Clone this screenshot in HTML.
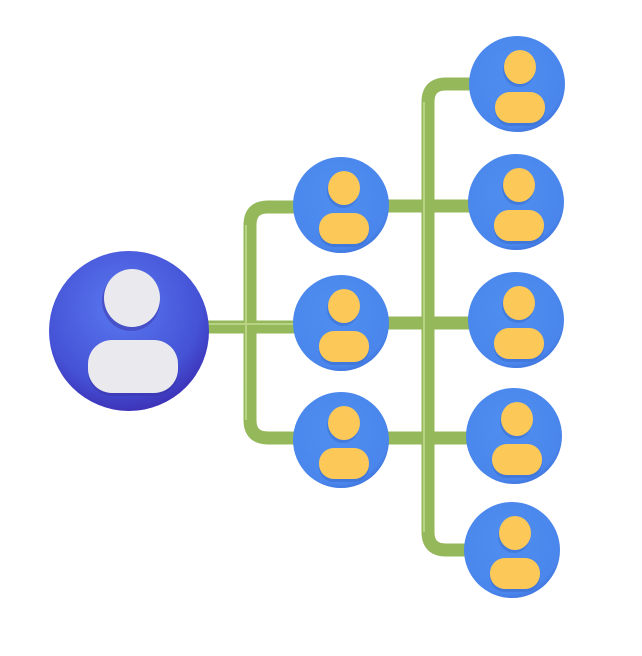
<!DOCTYPE html>
<html><head><style>html,body{margin:0;padding:0;background:#fff;}svg{display:block}</style></head>
<body>
<svg width="642" height="656" viewBox="0 0 642 656" xmlns="http://www.w3.org/2000/svg">
<defs>
<radialGradient id="big" cx="0.45" cy="0.35" r="0.7">
<stop offset="0" stop-color="#5a78f0"/><stop offset="0.7" stop-color="#4553d6"/><stop offset="1" stop-color="#3a2ab0"/>
</radialGradient>
<radialGradient id="sm" cx="0.45" cy="0.4" r="0.65">
<stop offset="0" stop-color="#4f8ff0"/><stop offset="0.85" stop-color="#4a86ec"/><stop offset="1" stop-color="#3b6ed8"/>
</radialGradient>
<g id="p">
<circle r="48" fill="url(#sm)"/>
<ellipse cx="2" cy="-14" rx="16" ry="17" fill="#3a6fd0" opacity="0.6"/>
<ellipse cx="3" cy="-17" rx="16" ry="17" fill="#fcc858"/>
<rect x="-22" y="10" width="50" height="32" rx="15" fill="#3a6fd0" opacity="0.6"/>
<rect x="-22" y="8" width="50" height="31" rx="15" fill="#fcc858"/>
</g>
</defs>
<g fill="none" stroke="#95b85a" stroke-width="13" stroke-linecap="round">
<path d="M205 327 H300"/>
<path d="M295 207 H268 Q250 207 250 225 V420 Q250 438 268 438 H300"/>
<path d="M385 206 H475"/>
<path d="M385 323 H475"/>
<path d="M385 438 H475"/>
<path d="M475 84 H446 Q428 84 428 102 V532 Q428 550 446 550 H475"/>
</g>
<g fill="none" stroke="#c9de96" stroke-width="2" opacity="0.7">
<path d="M205 324 H300"/>
<path d="M246 225 V420"/>
<path d="M424 102 V532"/>
</g>
<circle cx="129" cy="331" r="80" fill="url(#big)"/>
<ellipse cx="131" cy="301" rx="29" ry="30" fill="#3a33a8" opacity="0.5"/>
<ellipse cx="132" cy="298" rx="28" ry="29" fill="#e9e9ee"/>
<rect x="88" y="344" width="90" height="52" rx="24" fill="#3a33a8" opacity="0.5"/>
<rect x="88" y="340" width="90" height="53" rx="24" fill="#e9e9ee"/>
<use href="#p" x="341" y="205"/>
<use href="#p" x="341" y="323"/>
<use href="#p" x="341" y="440"/>
<use href="#p" x="517" y="84"/>
<use href="#p" x="516" y="202"/>
<use href="#p" x="516" y="320"/>
<use href="#p" x="514" y="436"/>
<use href="#p" x="512" y="550"/>
</svg>
</body></html>
